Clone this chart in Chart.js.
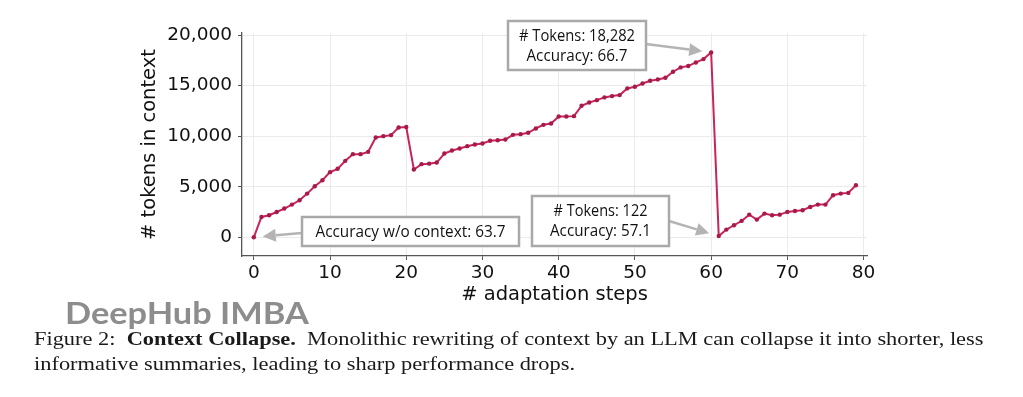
<!DOCTYPE html>
<html>
<head>
<meta charset="utf-8">
<script src="https://cdn.jsdelivr.net/npm/chart.js@4.4.0/dist/chart.umd.min.js"></script>
<style>
    html, body { margin: 0; padding: 0; background: #fff; }
    #wrap { position: relative; width: 1023px; height: 397px; overflow: hidden; }
    #chart { position: absolute; left: 0; top: 0; }
    .fit { position: absolute; white-space: nowrap; transform-origin: 0 0; }
    #watermark { left: 65px; top: 297px; font-family: Lato; font-weight: 700; font-size: 30px; line-height: 30px; color: #8d8d8d; }
    .cap { left: 34px; font-family: "Liberation Serif"; font-size: 19px; line-height: 19px; color: #1a1a1a; }
</style>
</head>
<body>
<div id="wrap">
    <canvas id="chart" width="1023" height="397"></canvas>
    <div id="watermark" class="fit">DeepHub IMBA</div>
    <div id="cap1" class="fit cap" style="top:329px">Figure 2: &nbsp;<b>Context Collapse.</b> &nbsp;Monolithic rewriting of context by an LLM can collapse it into shorter, less</div>
    <div id="cap2" class="fit cap" style="top:354px">informative summaries, leading to sharp performance drops.</div>
</div>
<script>
// Data
const steps = [
    0, 1, 2, 3, 4, 5, 6, 7, 8, 9, 10, 11, 12, 13, 14, 15, 16, 17, 18, 19,
    20, 21, 22, 23, 24, 25, 26, 27, 28, 29, 30, 31, 32, 33, 34, 35, 36, 37, 38, 39,
    40, 41, 42, 43, 44, 45, 46, 47, 48, 49, 50, 51, 52, 53, 54, 55, 56, 57, 58, 59,
    60, 61, 62, 63, 64, 65, 66, 67, 68, 69, 70, 71, 72, 73, 74, 75, 76, 77, 78, 79
];
const tokens = [
    0, 2010, 2180, 2500, 2840, 3230, 3660, 4320, 5050, 5640,
    6440, 6770, 7560, 8220, 8220, 8450, 9870, 10000, 10100, 10860,
    10900, 6700, 7230, 7280, 7390, 8280, 8580, 8780, 9010, 9170,
    9270, 9540, 9600, 9670, 10130, 10200, 10330, 10760, 11120, 11250,
    11950, 11950, 11980, 13000, 13330, 13560, 13830, 13960, 14060, 14720,
    14880, 15210, 15480, 15610, 15770, 16370, 16800, 16930, 17290, 17620,
    18282, 122, 760, 1190, 1620, 2240, 1750, 2340, 2180, 2240,
    2510, 2600, 2670, 3000, 3230, 3230, 4160, 4320, 4390, 5150
];
const xTickValues = [0, 10, 20, 30, 40, 50, 60, 70, 80];
const yTickValues = [0, 5000, 10000, 15000, 20000];

const xTitle = '# adaptation steps';
const yTitle = '# tokens in context';

// Callout boxes (pixel layout), each pointing at one step of the series
const callouts = [
    { lines: ['Accuracy w/o context: 63.7'], widths: [190], box: [302, 217, 519, 246], from: [302, 233], target: 0, gap: 9 },
    { lines: ['# Tokens: 18,282', 'Accuracy: 66.7'], widths: [116, 101], box: [508, 21, 646, 70], from: [646, 44], target: 60, gap: 9 },
    { lines: ['# Tokens: 122', 'Accuracy: 57.1'], widths: [94, 101], box: [532, 196, 669, 246], from: [669, 221], target: 61, gap: 10 }
];

const lineColor = '#c8245c';
const markerColor = '#a81a4c';
const arrowColor = '#b4b4b4';
const boxBorder = '#a9a9a9';
const gridColor = '#ebebeb';
const axisColor = '#555';
const tickFont = { family: 'DejaVu Sans', size: 18.5 };
const titleFont = { family: 'DejaVu Sans', size: 19.5 };

const calloutPlugin = {
    id: 'callouts',
    afterDatasetsDraw(chart) {
        const { ctx, scales: { x, y } } = chart;
        callouts.forEach(c => {
            const px = x.getPixelForValue(steps[c.target]);
            const py = y.getPixelForValue(tokens[c.target]);
            const [tx, ty] = c.from;
            const dx = px - tx, dy = py - ty;
            const len = Math.hypot(dx, dy);
            const ux = dx / len, uy = dy / len;
            const ex = px - ux * c.gap, ey = py - uy * c.gap;
            const head = 13, half = 6.5;
            const bx = ex - ux * head, by = ey - uy * head;

            ctx.save();
            // arrow
            ctx.strokeStyle = arrowColor;
            ctx.fillStyle = arrowColor;
            ctx.lineWidth = 2.5;
            ctx.beginPath();
            ctx.moveTo(tx, ty);
            ctx.lineTo(bx, by);
            ctx.stroke();
            ctx.beginPath();
            ctx.moveTo(ex, ey);
            ctx.lineTo(bx - uy * half, by + ux * half);
            ctx.lineTo(bx + uy * half, by - ux * half);
            ctx.closePath();
            ctx.fill();

            // box
            const [x0, y0, x1, y1] = c.box;
            ctx.fillStyle = '#fff';
            ctx.fillRect(x0, y0, x1 - x0, y1 - y0);
            ctx.strokeStyle = boxBorder;
            ctx.lineWidth = 2.5;
            ctx.strokeRect(x0, y0, x1 - x0, y1 - y0);

            // text
            ctx.fillStyle = '#111';
            ctx.font = '15.5px "Open Sans"';
            ctx.textAlign = 'center';
            ctx.textBaseline = 'alphabetic';
            c.lines.forEach((t, i) => {
                const k = c.widths[i] / ctx.measureText(t).width;
                ctx.save();
                ctx.translate((x0 + x1) / 2, y0 + 20 + 20 * i);
                ctx.scale(k, 1);
                ctx.fillText(t, 0, 0);
                ctx.restore();
            });
            ctx.restore();
        });
    }
};

const ctx = document.getElementById('chart').getContext('2d');
new Chart(ctx, {
    type: 'line',
    data: {
        datasets: [{
            data: steps.map((s, i) => ({ x: s, y: tokens[i] })),
            borderColor: lineColor,
            borderWidth: 2,
            pointRadius: 2.2,
            pointBackgroundColor: markerColor,
            pointBorderWidth: 0,
            tension: 0
        }]
    },
    options: {
        responsive: false,
        animation: false,
        layout: { padding: { left: 138, right: 156, top: 33, bottom: 81 } },
        plugins: {
            legend: { display: false },
            tooltip: { enabled: false }
        },
        scales: {
            x: {
                type: 'linear',
                min: -1.55,
                max: 80.45,
                afterBuildTicks: s => { s.ticks = xTickValues.map(v => ({ value: v })); },
                afterFit: s => { s.height = 60; },
                ticks: { color: '#111', font: tickFont, padding: 2, maxRotation: 0 },
                grid: { color: gridColor, tickColor: axisColor, tickLength: 4 },
                border: { color: axisColor, width: 1.3 },
                title: { display: true, text: xTitle, color: '#111', font: titleFont, padding: { top: 0, bottom: 9 } }
            },
            y: {
                min: -1850,
                max: 20200,
                afterBuildTicks: s => { s.ticks = yTickValues.map(v => ({ value: v })); },
                afterFit: s => { s.width = 104; },
                ticks: {
                    color: '#111',
                    font: tickFont,
                    padding: 6,
                    callback: v => v.toLocaleString('en-US')
                },
                grid: { color: gridColor, tickColor: axisColor, tickLength: 4 },
                border: { color: axisColor, width: 1.3 },
                title: { display: true, text: yTitle, color: '#111', font: titleFont, padding: { top: 0, bottom: 0 } }
            }
        }
    },
    plugins: [calloutPlugin]
});

// Stretch the HTML text lines to the widths seen in the figure
function fitWidth(el, target) {
    el.style.transform = 'scaleX(' + (target / el.offsetWidth) + ')';
}
fitWidth(document.getElementById('watermark'), 244);
const cap1 = document.getElementById('cap1');
const k = 950 / cap1.offsetWidth;
cap1.style.transform = 'scaleX(' + k + ')';
document.getElementById('cap2').style.transform = 'scaleX(' + k + ')';
</script>
</body>
</html>
